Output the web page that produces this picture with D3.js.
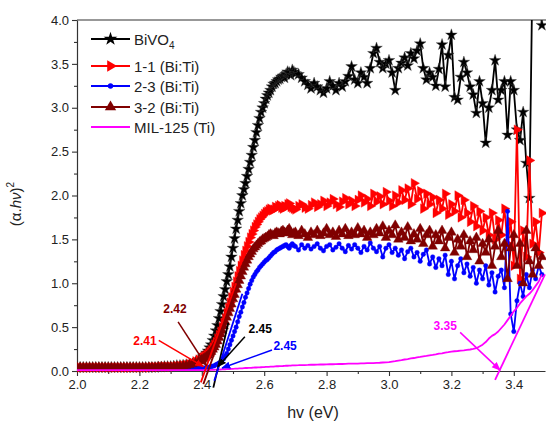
<!DOCTYPE html>
<html>
<head>
<meta charset="utf-8">
<script src="https://cdn.jsdelivr.net/npm/d3@7"></script>
<style>
  body { margin: 0; background: #fff; }
  text { font-family: "Liberation Sans", Arial, sans-serif; }
</style>
</head>
<body>
<svg id="chart" width="546" height="423"></svg>
<script>
// photon energy grid: 0.01 eV steps, finer (0.005) across the absorption edge
const energy = [
  ...d3.range(200, 240).map(d => d / 100),
  ...d3.range(480, 540).map(d => d / 200),
  ...d3.range(270, 350).map(d => d / 100)
];

// (alpha h nu)^2, one value per energy step
const bivo4 = [
  0.04,0.04,0.04,0.04,0.04,0.04,0.04,0.04,0.04,0.04,
  0.04,0.04,0.04,0.04,0.04,0.04,0.04,0.04,0.04,0.04,
  0.04,0.04,0.04,0.04,0.04,0.04,0.045,0.045,0.05,0.05,
  0.05,0.055,0.06,0.06,0.065,0.07,0.075,0.08,0.10,0.12,
  0.15,0.165,0.18,0.205,0.23,0.265,0.30,0.35,0.40,0.46,
  0.52,0.60,0.68,0.76,0.85,0.93,1.02,1.10,1.19,1.30,
  1.40,1.51,1.62,1.72,1.82,1.91,2.00,2.07,2.14,2.22,
  2.30,2.38,2.46,2.55,2.63,2.72,2.80,2.88,2.95,3.00,
  3.05,3.10,3.14,3.17,3.20,3.24,3.27,3.28,3.30,3.32,
  3.33,3.35,3.36,3.34,3.38,3.41,3.40,3.37,3.43,3.41,
  3.39,3.38,3.34,3.30,3.26,3.22,3.28,3.24,3.20,3.17,
  3.22,3.30,3.25,3.20,3.28,3.24,3.30,3.36,3.47,3.32,
  3.28,3.40,3.35,3.28,3.45,3.62,3.68,3.52,3.45,3.50,
  3.54,3.40,3.20,3.45,3.51,3.57,3.48,3.62,3.56,3.65,
  3.73,3.45,3.32,3.40,3.35,3.25,3.44,3.72,3.24,3.60,
  3.83,3.12,3.09,3.35,3.52,3.40,3.24,3.15,2.94,3.30,
  3.05,2.60,3.00,3.20,3.54,3.09,3.20,3.30,2.69,3.30,
  3.20,2.75,2.63,2.95,2.37,1.97,4.60,4.80,4.50,3.94
];
const bt11 = [
  0.04,0.04,0.04,0.04,0.04,0.04,0.04,0.04,0.04,0.04,
  0.04,0.04,0.04,0.04,0.04,0.04,0.04,0.04,0.04,0.04,
  0.04,0.04,0.04,0.04,0.045,0.045,0.045,0.05,0.05,0.05,
  0.05,0.05,0.055,0.06,0.065,0.07,0.08,0.09,0.11,0.13,
  0.15,0.16,0.17,0.185,0.20,0.22,0.24,0.27,0.30,0.33,
  0.37,0.41,0.45,0.50,0.55,0.60,0.66,0.72,0.78,0.84,
  0.90,0.96,1.02,1.08,1.14,1.20,1.26,1.32,1.37,1.42,
  1.47,1.52,1.56,1.60,1.64,1.67,1.70,1.73,1.75,1.77,
  1.79,1.81,1.82,1.84,1.85,1.83,1.84,1.87,1.86,1.88,
  1.89,1.86,1.85,1.88,1.87,1.90,1.91,1.87,1.86,1.85,
  1.84,1.88,1.90,1.86,1.85,1.89,1.92,1.87,1.90,1.94,
  1.88,1.92,1.96,1.90,1.87,1.93,1.97,1.90,1.94,1.88,
  1.95,2.00,1.92,1.96,1.88,2.02,1.93,1.99,1.90,2.04,
  1.94,1.88,2.00,1.92,2.06,1.95,2.08,1.90,2.14,1.96,
  2.05,1.85,2.02,1.90,1.98,1.80,1.95,1.85,2.02,1.78,
  1.90,1.82,2.00,1.75,1.95,1.80,1.70,1.88,1.65,1.82,
  1.60,1.75,1.55,1.80,1.50,1.72,1.55,1.85,1.45,1.70,
  1.20,2.75,1.05,1.60,1.30,2.40,1.45,1.70,1.35,1.80
];
const bt23 = [
  0.03,0.03,0.03,0.03,0.03,0.03,0.03,0.03,0.03,0.03,
  0.03,0.03,0.03,0.03,0.03,0.03,0.03,0.03,0.03,0.03,
  0.03,0.03,0.03,0.03,0.03,0.03,0.03,0.03,0.03,0.03,
  0.03,0.03,0.03,0.03,0.03,0.03,0.03,0.035,0.035,0.035,
  0.035,0.035,0.035,0.037,0.04,0.045,0.05,0.055,0.06,0.07,
  0.08,0.09,0.10,0.12,0.14,0.17,0.20,0.25,0.30,0.35,
  0.40,0.45,0.50,0.56,0.62,0.67,0.73,0.78,0.84,0.89,
  0.94,0.99,1.03,1.07,1.10,1.13,1.15,1.18,1.20,1.22,
  1.24,1.26,1.27,1.29,1.31,1.33,1.35,1.36,1.38,1.39,
  1.40,1.41,1.42,1.43,1.44,1.42,1.40,1.43,1.45,1.43,
  1.42,1.38,1.44,1.40,1.43,1.39,1.42,1.45,1.40,1.37,
  1.42,1.44,1.38,1.41,1.45,1.40,1.36,1.43,1.39,1.44,
  1.40,1.35,1.42,1.38,1.46,1.40,1.36,1.42,1.30,1.40,
  1.44,1.35,1.40,1.32,1.38,1.28,1.36,1.40,1.30,1.35,
  1.25,1.33,1.38,1.22,1.30,1.18,1.28,1.20,1.32,1.10,
  1.25,1.05,1.20,1.28,1.12,1.22,1.08,1.18,1.00,1.15,
  1.05,1.20,0.98,1.12,0.90,1.08,1.15,0.95,1.82,0.65,
  0.45,0.80,1.00,0.85,1.10,0.95,1.15,1.05,1.20,1.10
];
const bt32 = [
  0.04,0.04,0.04,0.04,0.04,0.04,0.04,0.04,0.04,0.04,
  0.04,0.04,0.04,0.04,0.04,0.04,0.04,0.04,0.04,0.04,
  0.04,0.04,0.04,0.04,0.04,0.04,0.045,0.045,0.045,0.045,
  0.045,0.045,0.05,0.05,0.055,0.06,0.07,0.08,0.09,0.11,
  0.13,0.14,0.15,0.165,0.18,0.20,0.22,0.245,0.27,0.30,
  0.34,0.38,0.42,0.46,0.51,0.56,0.61,0.66,0.71,0.76,
  0.82,0.87,0.93,0.98,1.03,1.08,1.13,1.18,1.22,1.26,
  1.30,1.33,1.36,1.39,1.41,1.43,1.45,1.47,1.48,1.50,
  1.51,1.52,1.53,1.55,1.56,1.55,1.54,1.57,1.58,1.57,
  1.56,1.59,1.60,1.58,1.57,1.60,1.62,1.58,1.55,1.57,
  1.58,1.54,1.60,1.56,1.52,1.58,1.55,1.60,1.54,1.57,
  1.62,1.55,1.58,1.53,1.60,1.56,1.62,1.54,1.58,1.55,
  1.63,1.56,1.60,1.52,1.58,1.55,1.62,1.57,1.65,1.52,
  1.60,1.55,1.66,1.50,1.58,1.52,1.64,1.48,1.56,1.50,
  1.62,1.45,1.55,1.60,1.42,1.55,1.48,1.60,1.40,1.52,
  1.58,1.35,1.50,1.42,1.55,1.30,1.48,1.38,1.52,1.25,
  1.45,1.35,1.50,1.20,1.42,1.60,1.30,1.45,1.05,1.40,
  1.55,1.20,1.45,1.00,1.60,1.25,1.10,1.40,1.20,1.30
];
const mil125 = [
  0.01,0.01,0.01,0.01,0.01,0.01,0.01,0.01,0.01,0.01,
  0.01,0.01,0.01,0.01,0.01,0.01,0.01,0.01,0.01,0.01,
  0.01,0.01,0.01,0.01,0.01,0.01,0.01,0.01,0.01,0.01,
  0.01,0.01,0.01,0.01,0.01,0.01,0.01,0.01,0.01,0.01,
  0.010,0.010,0.010,0.010,0.010,0.011,0.012,0.013,0.014,0.015,
  0.015,0.016,0.017,0.018,0.020,0.020,0.021,0.022,0.023,0.024,
  0.025,0.026,0.028,0.028,0.029,0.030,0.031,0.033,0.034,0.034,
  0.035,0.036,0.037,0.039,0.040,0.040,0.041,0.042,0.043,0.044,
  0.045,0.047,0.048,0.048,0.049,0.050,0.051,0.053,0.054,0.054,
  0.055,0.056,0.057,0.059,0.060,0.060,0.061,0.062,0.063,0.064,
  0.065,0.066,0.068,0.068,0.069,0.071,0.071,0.072,0.074,0.074,
  0.075,0.077,0.077,0.078,0.080,0.080,0.081,0.083,0.083,0.084,
  0.085,0.087,0.087,0.089,0.089,0.090,0.093,0.094,0.097,0.098,
  0.100,0.107,0.112,0.119,0.124,0.131,0.136,0.143,0.148,0.155,
  0.160,0.167,0.172,0.179,0.184,0.190,0.197,0.202,0.209,0.214,
  0.220,0.225,0.228,0.233,0.236,0.241,0.245,0.251,0.260,0.280,
  0.300,0.330,0.370,0.400,0.420,0.450,0.490,0.530,0.580,0.630,
  0.680,0.720,0.770,0.810,0.850,0.880,0.920,0.970,1.020,1.100
];

const seriesNames = ["BiVO4", "1-1 (Bi:Ti)", "2-3 (Bi:Ti)", "3-2 (Bi:Ti)", "MIL-125 (Ti)"];
const seriesValues = [bivo4, bt11, bt23, bt32, mil125];

// Tauc extrapolation lines, [e0, y0, e1, y1]
const tangents = [
  [2.437, -0.19, 2.485, 0.55],
  [2.397, -0.13, 2.510, 1.00],
  [2.440, -0.11, 2.530, 0.88],
  [2.405, -0.15, 2.520, 1.00],
  [3.340, -0.10, 3.500, 1.10]
];

// band gap labels and their leader lines (data units)
const gapLabels = ["2.45", "2.41", "2.45", "2.42", "3.35"];
const gapSeries = [0, 1, 2, 3, 4];
const gapText = [[2.587, 0.43], [2.218, 0.30], [2.667, 0.24], [2.314, 0.66], [3.180, 0.47]];
const gapFrom = [[2.538, 0.39], [2.262, 0.35], [2.625, 0.24], [2.324, 0.56], [3.228, 0.44]];
const gapTo = [[2.452, 0.05], [2.405, 0.05], [2.465, 0.035], [2.415, 0.06], [3.356, 0.01]];

const xTicks = [2.0, 2.2, 2.4, 2.6, 2.8, 3.0, 3.2, 3.4];
const yTicks = [0.0, 0.5, 1.0, 1.5, 2.0, 2.5, 3.0, 3.5, 4.0];

const colors = ["#000000", "#ff0000", "#0000ff", "#800000", "#ff00ff"];
const symbols = [d3.symbolStar, d3.symbolTriangle, d3.symbolCircle, d3.symbolTriangle, null];
const symSize = [42, 40, 16, 40, 0];
const symRotate = [0, 90, 0, 0, 0];

const svg = d3.select("#chart");
const pLeft = 77, pRight = 545, pTop = 20, pBottom = 371;

const x = d3.scaleLinear().domain([2.0, 3.5]).range([pLeft, pRight]);
const y = d3.scaleLinear().domain([0, 4]).range([pBottom, pTop]);

const defs = svg.append("defs");
defs.append("clipPath").attr("id", "plot")
  .append("rect").attr("x", pLeft).attr("y", pTop)
  .attr("width", 546 - pLeft).attr("height", pBottom - pTop + 6);

colors.forEach((c, i) => {
  defs.append("marker").attr("id", "arr" + i)
    .attr("viewBox", "0 0 10 10").attr("refX", 9).attr("refY", 5)
    .attr("markerWidth", 6).attr("markerHeight", 6).attr("orient", "auto")
    .append("path").attr("d", "M0,1 L10,5 L0,9 Z").attr("fill", c);
});

// axes
const xAxis = d3.axisBottom(x).tickValues(xTicks).tickFormat(d3.format(".1f"))
  .tickSize(5).tickPadding(4).tickSizeOuter(0);
const yAxis = d3.axisLeft(y).tickValues(yTicks).tickFormat(d3.format(".1f"))
  .tickSize(5).tickPadding(3).tickSizeOuter(0);

svg.append("g").attr("transform", `translate(0,${pBottom})`).call(xAxis);
svg.append("g").attr("transform", `translate(${pLeft},0)`).call(yAxis);

svg.append("g").attr("transform", `translate(0,${pBottom})`)
  .call(d3.axisBottom(x).tickValues(d3.range(2.1, 3.5, 0.2)).tickSize(3).tickFormat(""))
  .select(".domain").remove();
svg.append("g").attr("transform", `translate(${pLeft},0)`)
  .call(d3.axisLeft(y).tickValues(d3.range(0.25, 4, 0.5)).tickSize(3).tickFormat(""))
  .select(".domain").remove();

svg.selectAll(".domain").attr("stroke", "#333").attr("stroke-width", 1.2);
svg.selectAll(".tick line").attr("stroke", "#333").attr("stroke-width", 1.1);
svg.selectAll(".tick text").attr("font-size", 13).attr("fill", "#222")
  .style("font-family", "'Liberation Sans', Arial, sans-serif");

svg.append("line").attr("x1", pLeft).attr("x2", 546).attr("y1", pTop).attr("y2", pTop)
  .attr("stroke", "#333").attr("stroke-width", 1.2);

svg.append("text").attr("x", 313).attr("y", 418).attr("text-anchor", "middle")
  .attr("font-size", 16).attr("fill", "#222").text("hv (eV)");

const yt = svg.append("text").attr("transform", "translate(21,204) rotate(-90)")
  .attr("text-anchor", "middle").attr("font-size", 15).attr("fill", "#222");
yt.append("tspan").text("(\u03b1.");
yt.append("tspan").attr("font-style", "italic").text("h\u03bd");
yt.append("tspan").text(")");
yt.append("tspan").attr("dy", -7).attr("font-size", 10).text("2");

// data
const plot = svg.append("g").attr("clip-path", "url(#plot)");
const line = d3.line().x((d, i) => x(energy[i])).y(d => y(d));

seriesValues.forEach((vals, s) => {
  const g = plot.append("g");
  g.append("path").datum(vals).attr("d", line)
    .attr("fill", "none").attr("stroke", colors[s]).attr("stroke-width", 1.8)
    .attr("stroke-linejoin", "round");
  if (symbols[s]) {
    g.selectAll("path.pt").data(vals).join("path").attr("class", "pt")
      .attr("d", d3.symbol(symbols[s], symSize[s]))
      .attr("transform", (d, i) => `translate(${x(energy[i])},${y(d)}) rotate(${symRotate[s]})`)
      .attr("fill", colors[s])
      .attr("stroke", s === 0 ? "#444" : colors[s]).attr("stroke-width", 0.4);
  }
});

// tangent lines
tangents.forEach((t, i) => {
  svg.append("line")
    .attr("x1", x(t[0])).attr("y1", y(t[1])).attr("x2", x(Math.min(t[2], 3.5))).attr("y2", y(t[3]))
    .attr("stroke", colors[i]).attr("stroke-width", 1.8);
});

// gap annotations
gapLabels.forEach((lab, i) => {
  const c = colors[gapSeries[i]];
  svg.append("line")
    .attr("x1", x(gapFrom[i][0])).attr("y1", y(gapFrom[i][1]))
    .attr("x2", x(gapTo[i][0])).attr("y2", y(gapTo[i][1]))
    .attr("stroke", c).attr("stroke-width", 1.5)
    .attr("marker-end", `url(#arr${gapSeries[i]})`);
  svg.append("text").attr("x", x(gapText[i][0])).attr("y", y(gapText[i][1]))
    .attr("text-anchor", "middle").attr("font-size", 12).attr("font-weight", "bold")
    .attr("fill", c).text(lab);
});

// legend
const legY = [39, 66, 86, 107, 127];
const leg = svg.append("g");
seriesNames.forEach((name, i) => {
  leg.append("line").attr("x1", 91).attr("x2", 130).attr("y1", legY[i]).attr("y2", legY[i])
    .attr("stroke", colors[i]).attr("stroke-width", 2.2);
  if (symbols[i]) {
    leg.append("path").attr("d", d3.symbol(symbols[i], symSize[i] * 1.4))
      .attr("transform", `translate(110.5,${legY[i]}) rotate(${symRotate[i]})`)
      .attr("fill", colors[i]);
  }
  const t = leg.append("text").attr("x", 134).attr("y", legY[i] + 5.5)
    .attr("font-size", 15).attr("fill", "#222");
  if (i === 0) {
    t.append("tspan").text("BiVO");
    t.append("tspan").attr("dy", 4).attr("font-size", 10).text("4");
  } else {
    t.text(name);
  }
});
</script>
</body>
</html>
